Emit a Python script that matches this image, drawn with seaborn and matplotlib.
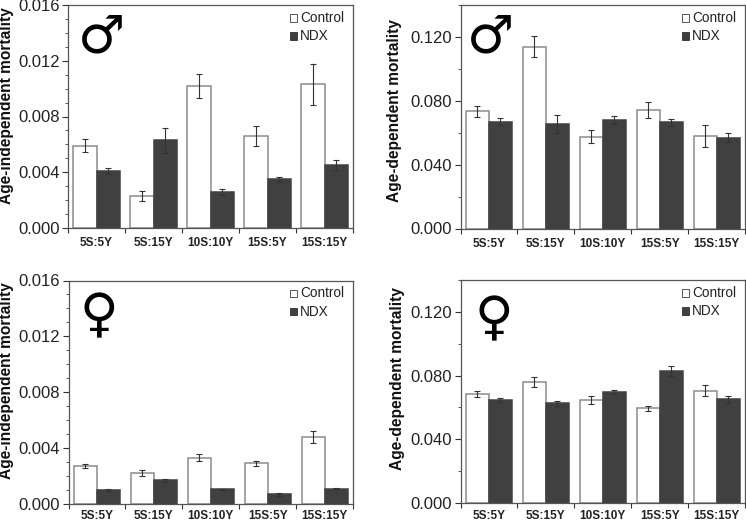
import matplotlib
matplotlib.use('Agg')
import pandas as pd
import matplotlib.pyplot as plt
import seaborn as sns
from matplotlib.ticker import MultipleLocator, FormatStrFormatter

sns.set_style('white')
plt.rcParams['font.family'] = ['Liberation Sans', 'DejaVu Sans']

groups = ['5S:5Y', '5S:15Y', '10S:10Y', '15S:5Y', '15S:15Y']

# male, age-independent
mi_control = [0.0059, 0.0023, 0.0102, 0.0066, 0.0103]
mi_ndx = [0.0041, 0.0063, 0.0026, 0.0035, 0.0045]
mi_control_err = [0.00045, 0.00035, 0.00085, 0.00075, 0.0015]
mi_ndx_err = [0.0002, 0.0009, 0.0002, 0.00018, 0.00035]
# male, age-dependent
md_control = [0.0735, 0.114, 0.0575, 0.074, 0.058]
md_ndx = [0.067, 0.0655, 0.068, 0.0665, 0.057]
md_control_err = [0.0035, 0.0065, 0.004, 0.005, 0.0068]
md_ndx_err = [0.002, 0.0055, 0.0027, 0.0022, 0.0027]
# female, age-independent
fi_control = [0.0027, 0.0022, 0.0033, 0.0029, 0.0048]
fi_ndx = [0.001, 0.0017, 0.00105, 0.0007, 0.0011]
fi_control_err = [0.00015, 0.0002, 0.00025, 0.00017, 0.0004]
fi_ndx_err = [0.00005, 0.00012, 0.00004, 0.0001, 0.00006]
# female, age-dependent
fd_control = [0.0685, 0.076, 0.0645, 0.0595, 0.0705]
fd_ndx = [0.0645, 0.0625, 0.0695, 0.083, 0.065]
fd_control_err = [0.002, 0.003, 0.0025, 0.0017, 0.0035]
fd_ndx_err = [0.0013, 0.0017, 0.0012, 0.003, 0.002]

W, H = 746, 522
dark = '#404040'
edge = '#8c8c8c'


def panel(box, control, ndx, control_err, ndx_err, ylabel, ymax, major, minor, symbol, sym_xy, label_xy, xpad):
    left, top, right, bottom = box
    ax = fig.add_axes([left / W, 1 - bottom / H, (right - left) / W, (bottom - top) / H])
    df = pd.DataFrame({
        'group': groups * 2,
        'treatment': ['Control'] * 5 + ['NDX'] * 5,
        'value': control + ndx,
    })
    sns.barplot(data=df, x='group', y='value', hue='treatment', hue_order=['Control', 'NDX'],
                palette={'Control': 'white', 'NDX': dark}, width=0.81, gap=0, errorbar=None,
                ax=ax, legend=False, zorder=2)
    for cont, errs, ec in zip(ax.containers, [control_err, ndx_err], [edge, dark]):
        for bar, err in zip(cont, errs):
            bar.set_edgecolor(ec)
            bar.set_linewidth(1.1)
            ax.errorbar(bar.get_x() + bar.get_width() / 2, bar.get_height(), yerr=err,
                        color='#333333', elinewidth=0.8, capsize=2.2, capthick=0.8, zorder=3)
    ax.set_xlim(-0.5, 4.5)
    ax.set_ylim(0, ymax)
    ax.yaxis.set_major_locator(MultipleLocator(major))
    ax.yaxis.set_minor_locator(MultipleLocator(minor))
    ax.yaxis.set_major_formatter(FormatStrFormatter('%.3f'))
    ax.set_xlabel('')
    ax.set_ylabel(ylabel, fontsize=11.2, fontweight='bold', color='#111111')
    # label position given in pixels of the figure (right edge of the rotated text, centre)
    ax.yaxis.set_label_coords((label_xy[0] - left) / (right - left), (bottom - label_xy[1]) / (bottom - top))
    ax.tick_params(axis='y', which='major', direction='out', length=4, width=0.8, labelsize=12,
                   color='#333333', labelcolor='#222222', left=True, pad=2)
    ax.tick_params(axis='y', which='minor', direction='out', length=2.5, width=0.7, color='#555555', left=True)
    ax.tick_params(axis='x', length=0, pad=xpad)
    ax.set_xticks(range(5))
    ax.set_xticklabels(groups, fontsize=8.5, fontweight='bold', color='#222222')
    # group separators on the baseline
    ax.set_xticks([i + 0.5 for i in range(-1, 5)], minor=True)
    ax.tick_params(axis='x', which='minor', direction='out', length=3.5, width=0.8, color='#333333', bottom=True)
    for s in ax.spines.values():
        s.set_color('#555555')
        s.set_linewidth(0.9)
    ax.text(sym_xy[0], sym_xy[1], symbol, transform=ax.transAxes, fontsize=38,
            family='DejaVu Sans', fontweight='bold', color='black', ha='center', va='center')
    for name, fc, ec, y in [('Control', 'white', '#555555', 0.942), ('NDX', dark, dark, 0.861)]:
        ax.add_patch(plt.Rectangle((0.779, y - 0.016), 0.025, 0.032, transform=ax.transAxes,
                                   facecolor=fc, edgecolor=ec, linewidth=0.7, zorder=4))
        ax.text(0.814, y, name, transform=ax.transAxes, fontsize=9.8, color='#222222',
                ha='left', va='center')
    return ax


fig = plt.figure(figsize=(W / 100, H / 100), dpi=100)
panel((68, 5, 353, 228), mi_control, mi_ndx, mi_control_err, mi_ndx_err,
      'Age-independent mortality', 0.016, 0.004, 0.001, '\u2642', (0.116, 0.855), (14, 106), 6.5)
panel((460.5, 5, 745, 228.5), md_control, md_ndx, md_control_err, md_ndx_err,
      'Age-dependent mortality', 0.14, 0.04, 0.02, '\u2642', (0.104, 0.855), (402, 110), 6.5)
panel((68.5, 280.5, 353, 504), fi_control, fi_ndx, fi_control_err, fi_ndx_err,
      'Age-independent mortality', 0.016, 0.004, 0.001, '\u2640', (0.107, 0.84), (14, 381), 4.5)
panel((460.5, 280, 745, 503), fd_control, fd_ndx, fd_control_err, fd_ndx_err,
      'Age-dependent mortality', 0.14, 0.04, 0.02, '\u2640', (0.118, 0.825), (405, 378), 5)
fig.savefig('out.png', dpi=100)
